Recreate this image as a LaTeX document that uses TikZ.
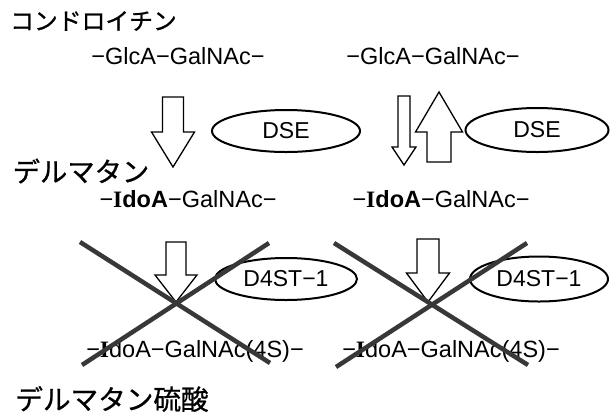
\documentclass[tikz,border=0pt]{standalone}
\usepackage{fontspec}
\setmainfont{Liberation Sans}
\newfontfamily\jpfont[FakeBold=0.8]{Noto Sans CJK JP}
\newfontfamily\serifI{Liberation Serif}
\usetikzlibrary{shapes.geometric}
\newcommand\mn{\char"2212\relax}
\newcommand\Ido{{\serifI\bfseries I}doA}
\newcommand\blockarrow[6]{%
  \draw[arrowbox] (#1-#4,#2) -- (#1+#4,#2) -- (#1+#4,#6) -- (#1+#5,#6) -- (#1,#3) -- (#1-#5,#6) -- (#1-#4,#6) -- cycle;}
\begin{document}
\begin{tikzpicture}[x=1pt,y=-1pt,
  jp/.style={font=\jpfont\fontsize{#1}{#1}\selectfont, inner sep=0pt},
  chain/.style={font=\fontsize{23.5}{23.5}\selectfont, inner sep=0pt, anchor=base},
  enzyme/.style={ellipse, draw, line width=2pt, inner sep=0pt, font=\fontsize{23}{23}\selectfont},
  arrowbox/.style={draw, line width=1.3pt, fill=white, line join=miter},
  crossline/.style={draw=black!78, line width=4.5pt}]
\useasboundingbox (0,0) rectangle (610,416);
% titles
\node[jp=23.8, anchor=west] (chon) at (10,21) {コンドロイチン};
\node[jp=27.3] (derm) at (81,171) {デルマタン};
\node[jp=27.6] (dermS) at (112,399) {デルマタン硫酸};
% sugar chains
\node[chain] (glcL) at (178,64) {\mn GlcA\mn GalNAc\mn};
\node[chain] (glcR) at (433,64) {\mn GlcA\mn GalNAc\mn};
\node[chain] (idoL) at (188,207) {\mn{\bfseries\Ido}\mn GalNAc\mn};
\node[chain] (idoR) at (441,207) {\mn{\bfseries\Ido}\mn GalNAc\mn};
\node[chain] (sulL) at (195,357) {\mn\Ido\mn GalNAc(4S)\mn};
\node[chain] (sulR) at (451,357) {\mn\Ido\mn GalNAc(4S)\mn};
% enzymes
\node[enzyme, minimum width=148pt, minimum height=42pt] (dseL) at (286,131) {DSE};
\node[enzyme, minimum width=143pt, minimum height=44pt] (dseR) at (537,130) {DSE};
\node[enzyme, minimum width=142pt, minimum height=42pt] (dstL) at (286,279) {D4ST\mn 1};
\node[enzyme, minimum width=138pt, minimum height=45pt] (dstR) at (539,279) {D4ST\mn 1};
% block arrows
\blockarrow{173}{97}{167}{10.5}{21.5}{132}
\blockarrow{404}{96}{165}{6}{12}{147}
\blockarrow{439}{162}{92}{12}{23.5}{132}
\blockarrow{176}{242}{302}{10}{21}{275}
\blockarrow{428}{239}{302}{11}{21.5}{273}
% crosses
\coordinate (xL1) at (80,242); \coordinate (xL2) at (270,363);
\coordinate (xL3) at (82,365); \coordinate (xL4) at (269,243);
\coordinate (xR1) at (334,243); \coordinate (xR2) at (528,365);
\coordinate (xR3) at (336,367); \coordinate (xR4) at (527,243);
\draw[crossline] (xL1) -- (xL2);
\draw[crossline] (xL3) -- (xL4);
\draw[crossline] (xR1) -- (xR2);
\draw[crossline] (xR3) -- (xR4);
\end{tikzpicture}
\end{document}
